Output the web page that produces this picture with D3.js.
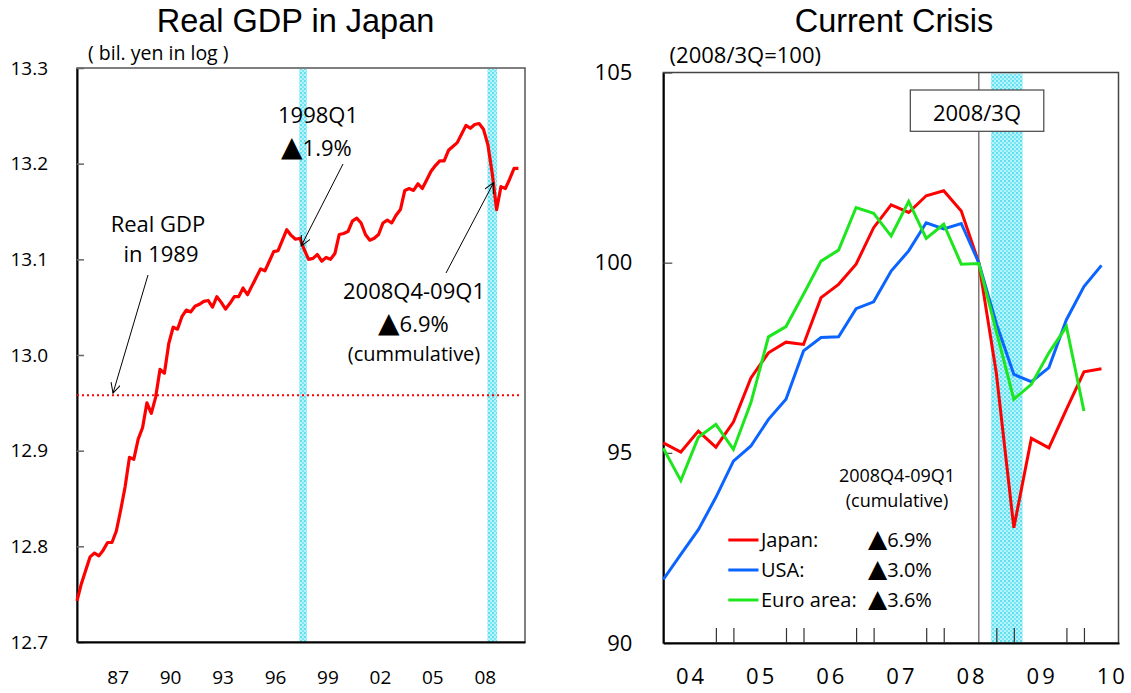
<!DOCTYPE html>
<html>
<head>
<meta charset="utf-8">
<script src="https://cdn.jsdelivr.net/npm/d3@7"></script>
<style>
  body { margin: 0; background: #fff; }
  svg { display: block; }
  .txt { font-family: "Open Sans", sans-serif; fill: #000; }
  .tri { font-family: "DejaVu Sans", sans-serif; }
  .title { font-family: "Liberation Sans", Arial, sans-serif; font-size: 32.5px; fill: #000; }
</style>
</head>
<body>
<div id="chart"></div>
<script>
"use strict";

// left chart: real GDP in Japan (log), quarterly from 1985Q1
var gdpStartYear = 1985;
var gdpLog = [
  12.743, 12.761, 12.775, 12.789, 12.793, 12.790, 12.796, 12.804, 12.804, 12.816,
  12.838, 12.862, 12.893, 12.891, 12.912, 12.924, 12.950, 12.939, 12.956, 12.985,
  12.981, 13.012, 13.029, 13.027, 13.040, 13.047, 13.045, 13.051, 13.053, 13.056,
  13.057, 13.050, 13.061, 13.055, 13.048, 13.054, 13.061, 13.061, 13.070, 13.063,
  13.072, 13.081, 13.090, 13.088, 13.098, 13.108, 13.109, 13.120, 13.131, 13.125,
  13.121, 13.122, 13.110, 13.100, 13.101, 13.105, 13.098, 13.102, 13.100, 13.106,
  13.126, 13.127, 13.129, 13.140, 13.143, 13.138, 13.126, 13.120, 13.122, 13.126,
  13.138, 13.141, 13.138, 13.146, 13.152, 13.172, 13.174, 13.172, 13.179, 13.174,
  13.183, 13.192, 13.198, 13.203, 13.203, 13.214, 13.218, 13.222, 13.231, 13.240,
  13.237, 13.241, 13.242, 13.236, 13.220, 13.190, 13.152, 13.176, 13.174, 13.184,
  13.195, 13.195
];
var gdp1989Level = 12.958;
var gdpYTicks = [12.7, 12.8, 12.9, 13.0, 13.1, 13.2, 13.3];
var gdpYearLabels = ["87", "90", "93", "96", "99", "02", "05", "08"];
var gdpYears = [1987, 1990, 1993, 1996, 1999, 2002, 2005, 2008];

// right chart: current crisis, 2008/3Q = 100, quarterly from 2004Q1
var crisisStartYear = 2004;
var japan = [95.26, 95.02, 95.57, 95.15, 95.81, 96.97, 97.63, 97.91, 97.85, 99.08,
  99.43, 99.96, 100.92, 101.52, 101.32, 101.76, 101.89, 101.36, 100.00, 97.10,
  93.03, 95.38, 95.13, 96.14, 97.13, 97.21];
var usa = [91.67, 92.33, 92.98, 93.83, 94.78, 95.18, 95.88, 96.41, 97.68, 98.03,
  98.05, 98.79, 98.97, 99.78, 100.31, 101.05, 100.89, 101.03, 100.00, 98.40,
  97.06, 96.87, 97.24, 98.50, 99.37, 99.93];
var euro = [95.12, 94.27, 95.41, 95.75, 95.09, 96.32, 98.05, 98.32, 99.17, 100.04,
  100.33, 101.45, 101.30, 100.70, 101.61, 100.64, 101.01, 99.96, 99.98, 98.20,
  96.41, 96.80, 97.63, 98.32, 96.10];
var crisisYTicks = [90, 95, 100, 105];
var crisisYearLabels = ["04", "05", "06", "07", "08", "09", "10"];
var crisisQuarterTicks = [3, 4, 7, 8, 11, 12, 15, 16, 19, 20, 23, 24];
var legendNames = ["Japan:", "USA:", "Euro area:"];
var legendDrops = ["6.9%", "3.0%", "3.6%"];
var seriesColors = ["#ff0000", "#0a64ff", "#1ee61e"];

var W = 1131, H = 693;
var svg = d3.select("#chart").append("svg")
  .attr("width", W)
  .attr("height", H);

var defs = svg.append("defs");

// hatched cyan fill used for the recession bands
var pat = defs.append("pattern")
  .attr("id", "band")
  .attr("width", 4).attr("height", 4)
  .attr("patternUnits", "userSpaceOnUse");
pat.append("rect").attr("width", 4).attr("height", 4).attr("fill", "#b8f2fa");
pat.append("rect").attr("width", 2).attr("height", 2).attr("fill", "#5fe0f0");
pat.append("rect").attr("x", 2).attr("y", 2).attr("width", 2).attr("height", 2).attr("fill", "#7ae7f4");

// open arrow head
defs.append("marker")
  .attr("id", "arrow")
  .attr("markerUnits", "userSpaceOnUse")
  .attr("markerWidth", 14).attr("markerHeight", 14)
  .attr("refX", 10).attr("refY", 5)
  .attr("orient", "auto")
  .append("path")
  .attr("d", "M0,0 L10,5 L0,10")
  .attr("fill", "none")
  .attr("stroke", "#000")
  .attr("stroke-width", 1);

// text with a big black triangle in front
function dropText(sel, x, y, triSize, size, value)
{
  var t = sel.append("text").attr("class", "txt")
    .attr("x", x).attr("y", y)
    .style("font-size", size + "px");
  t.append("tspan").attr("class", "tri").style("font-size", triSize + "px").text("▲");
  t.append("tspan").text(value);
  return t;
}

function gdpChart()
{
  var left = 77, right = 525, top = 68, bottom = 642;
  var x = d3.scaleLinear().domain([0, 102.5]).range([left, right]);
  var y = d3.scaleLinear().domain([12.7, 13.3]).range([bottom, top]);
  var g = svg.append("g");

  // recession bands (1998Q1 and 2008Q4-09Q1)
  var bands = [[50.85, 52.6], [93.9, 96.1]];
  g.selectAll("rect.band")
    .data(bands)
    .enter().append("rect")
    .attr("class", "band")
    .attr("x", function(d) { return x(d[0]); })
    .attr("width", function(d) { return x(d[1]) - x(d[0]); })
    .attr("y", top + 1)
    .attr("height", bottom - top - 1)
    .attr("fill", "url(#band)");

  // frame
  g.append("rect")
    .attr("x", left).attr("y", top)
    .attr("width", right - left).attr("height", bottom - top)
    .attr("fill", "none").attr("stroke", "#555").attr("stroke-width", 1.5);

  // y axis
  var yAxis = d3.axisLeft(y)
    .tickValues(gdpYTicks)
    .tickFormat(d3.format(".1f"))
    .tickSizeInner(-7)
    .tickSizeOuter(0)
    .tickPadding(29);
  var ya = g.append("g").attr("transform", "translate(" + left + ",0)").call(yAxis);
  ya.select(".domain").attr("stroke", "#000").attr("stroke-width", 2);
  ya.selectAll(".tick line").attr("stroke", "#666").attr("stroke-width", 1.5);
  ya.selectAll("text").attr("class", "txt").style("font-size", "19px");

  // x axis (labels only)
  var xAxis = d3.axisBottom(x)
    .tickValues(gdpYears.map(function(yr) { return (yr - gdpStartYear) * 4 + 1.3; }))
    .tickFormat(function(d, i) { return gdpYearLabels[i]; })
    .tickSize(0)
    .tickPadding(29);
  var xa = g.append("g").attr("transform", "translate(0," + bottom + ")").call(xAxis);
  xa.select(".domain").attr("stroke", "#000").attr("stroke-width", 2);
  xa.selectAll("text").attr("class", "txt").style("font-size", "19px");

  // 1989 level
  g.append("line")
    .attr("x1", x(0)).attr("x2", x(101.5))
    .attr("y1", y(gdp1989Level)).attr("y2", y(gdp1989Level))
    .attr("stroke", "#ff0000").attr("stroke-width", 2)
    .attr("stroke-dasharray", "2,3");

  // gdp line
  var line = d3.line()
    .x(function(d, i) { return x(i); })
    .y(function(d) { return y(d); });
  g.append("path")
    .datum(gdpLog)
    .attr("d", line)
    .attr("fill", "none")
    .attr("stroke", "#ff0000")
    .attr("stroke-width", 3.2)
    .attr("stroke-linejoin", "round");

  // annotations
  var notes = [
    {t: "1998Q1", x: 318, y: 123, s: 22},
    {t: "Real GDP", x: 158, y: 232, s: 22},
    {t: "in 1989", x: 161, y: 262, s: 22},
    {t: "2008Q4-09Q1", x: 414, y: 299, s: 22},
    {t: "(cummulative)", x: 414, y: 361, s: 20}
  ];
  g.selectAll("text.note")
    .data(notes)
    .enter().append("text")
    .attr("class", "txt")
    .attr("x", function(d) { return d.x; })
    .attr("y", function(d) { return d.y; })
    .attr("text-anchor", "middle")
    .style("font-size", function(d) { return d.s + "px"; })
    .text(function(d) { return d.t; });
  dropText(g, 281, 156, 28, 22, "1.9%");
  dropText(g, 378, 332, 28, 22, "6.9%");

  var arrows = [
    [343, 164, x(51.3), y(13.114)],
    [148, 275, 113, y(gdp1989Level) - 2],
    [446, 273, x(95.3), y(13.180)]
  ];
  g.selectAll("line.arrow")
    .data(arrows)
    .enter().append("line")
    .attr("x1", function(d) { return d[0]; })
    .attr("y1", function(d) { return d[1]; })
    .attr("x2", function(d) { return d[2]; })
    .attr("y2", function(d) { return d[3]; })
    .attr("stroke", "#000").attr("stroke-width", 1)
    .attr("marker-end", "url(#arrow)");

  // titles
  svg.append("text").attr("class", "title")
    .attr("x", 295.5).attr("y", 31.5).attr("text-anchor", "middle")
    .text("Real GDP in Japan");
  svg.append("text").attr("class", "txt")
    .attr("x", 88).attr("y", 60).style("font-size", "19.5px")
    .text("( bil. yen in log )");
}

function crisisChart()
{
  var left = 663.3, right = 1118.5, top = 72.5, bottom = 643;
  var x = d3.scaleLinear().domain([0, 26]).range([left, 1119]);
  var y = d3.scaleLinear().domain([90, 105]).range([bottom, top]);
  var g = svg.append("g");

  // 2008Q4-09Q1 band
  g.append("rect")
    .attr("x", x(18.7)).attr("width", x(20.5) - x(18.7))
    .attr("y", top + 1).attr("height", bottom - top - 1)
    .attr("fill", "url(#band)");

  // 2008/3Q line
  g.append("line")
    .attr("x1", x(18)).attr("x2", x(18))
    .attr("y1", top).attr("y2", bottom)
    .attr("stroke", "#777").attr("stroke-width", 1.5);

  // frame
  g.append("rect")
    .attr("x", left).attr("y", top)
    .attr("width", right - left).attr("height", bottom - top)
    .attr("fill", "none").attr("stroke", "#444").attr("stroke-width", 1.5);

  // y axis
  var yAxis = d3.axisLeft(y)
    .tickValues(crisisYTicks)
    .tickSizeInner(-9)
    .tickSizeOuter(0)
    .tickPadding(31);
  var ya = g.append("g").attr("transform", "translate(" + left + ",0)").call(yAxis);
  ya.select(".domain").attr("stroke", "#000").attr("stroke-width", 2);
  ya.selectAll(".tick line").attr("stroke", "#444").attr("stroke-width", 1.2);
  ya.selectAll("text").attr("class", "txt").style("font-size", "22px");

  // quarter tick marks
  var tickAxis = d3.axisBottom(x)
    .tickValues(crisisQuarterTicks)
    .tickFormat("")
    .tickSizeInner(-15)
    .tickSizeOuter(0);
  var ta = g.append("g").attr("transform", "translate(0," + bottom + ")").call(tickAxis);
  ta.select(".domain").attr("stroke", "#000").attr("stroke-width", 2);
  ta.selectAll(".tick line").attr("stroke", "#333").attr("stroke-width", 1.2);

  // year labels
  var labelAxis = d3.axisBottom(x)
    .tickValues(crisisYearLabels.map(function(d, i) { return i * 4 + 1.5; }))
    .tickFormat(function(d, i) { return crisisYearLabels[i]; })
    .tickSize(0)
    .tickPadding(25);
  var la = g.append("g").attr("transform", "translate(1.5," + bottom + ")").call(labelAxis);
  la.select(".domain").remove();
  la.selectAll("text").attr("class", "txt")
    .style("font-size", "22px")
    .style("letter-spacing", "3px");

  // series
  var line = d3.line()
    .x(function(d, i) { return x(i); })
    .y(function(d) { return y(d); });
  var series = [japan, usa, euro];
  g.selectAll("path.series")
    .data(series)
    .enter().append("path")
    .attr("class", "series")
    .attr("d", line)
    .attr("fill", "none")
    .attr("stroke", function(d, i) { return seriesColors[i]; })
    .attr("stroke-width", 3)
    .attr("stroke-linejoin", "miter");

  // 2008/3Q box
  g.append("rect")
    .attr("x", 910.3).attr("y", 90)
    .attr("width", 133.5).attr("height", 41.3)
    .attr("fill", "#fff").attr("stroke", "#444").attr("stroke-width", 1.2);
  g.append("text").attr("class", "txt")
    .attr("x", 977).attr("y", 121).attr("text-anchor", "middle")
    .style("font-size", "22px")
    .text("2008/3Q");

  // legend
  g.append("text").attr("class", "txt")
    .attr("x", 897).attr("y", 481.5).attr("text-anchor", "middle")
    .style("font-size", "18px").text("2008Q4-09Q1");
  g.append("text").attr("class", "txt")
    .attr("x", 897).attr("y", 506.5).attr("text-anchor", "middle")
    .style("font-size", "18px").text("(cumulative)");

  var leg = g.selectAll("g.legend")
    .data(legendNames)
    .enter().append("g")
    .attr("class", "legend")
    .attr("transform", function(d, i) { return "translate(0," + (540 + i * 30) + ")"; });
  leg.append("line")
    .attr("x1", 728.3).attr("x2", 758.5)
    .attr("y1", 0).attr("y2", 0)
    .attr("stroke", function(d, i) { return seriesColors[i]; })
    .attr("stroke-width", 3);
  leg.append("text").attr("class", "txt")
    .attr("x", 761).attr("y", 7)
    .style("font-size", "20px")
    .text(function(d) { return d; });
  leg.each(function(d, i) {
    dropText(d3.select(this), 868, 7, 25, 20, legendDrops[i]);
  });

  // titles
  svg.append("text").attr("class", "title")
    .attr("x", 894).attr("y", 31.5).attr("text-anchor", "middle")
    .text("Current Crisis");
  svg.append("text").attr("class", "txt")
    .attr("x", 669.6).attr("y", 63).style("font-size", "22px")
    .text("(2008/3Q=100)");
}

gdpChart();
crisisChart();
</script>
</body>
</html>
